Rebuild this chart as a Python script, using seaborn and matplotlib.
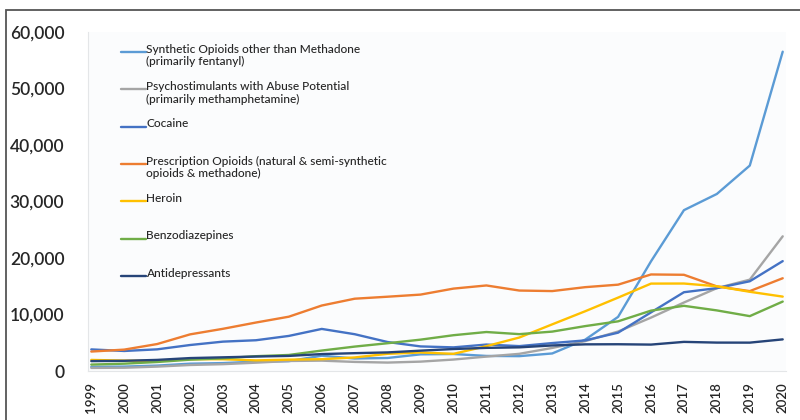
import numpy as np
import pandas as pd
import seaborn as sns
import matplotlib.pyplot as plt
from matplotlib.legend_handler import HandlerLine2D
from matplotlib.patches import Rectangle

years = list(range(1999, 2021))

synthetic = [730, 782, 957, 1295, 1400, 1664, 1742, 2707, 2213, 2306, 2946, 3007,
             2666, 2628, 3105, 5544, 9580, 19413, 28466, 31335, 36359, 56516]
psycho = [547, 578, 777, 1064, 1207, 1473, 1773, 1832, 1609, 1491, 1659, 2027,
          2549, 3039, 4083, 5288, 6986, 9449, 12122, 14666, 16167, 23837]
cocaine = [3822, 3544, 3833, 4599, 5199, 5443, 6208, 7448, 6512, 5129, 4350, 4183,
           4681, 4404, 4944, 5415, 6784, 10375, 13942, 14666, 15883, 19447]
prescription = [3442, 3785, 4770, 6483, 7469, 8577, 9612, 11589, 12796, 13149, 13523, 14583,
                15140, 14240, 14145, 14838, 15281, 17087, 17029, 14975, 14139, 16416]
heroin = [1960, 1842, 1779, 2089, 2080, 1878, 2009, 2088, 2399, 3041, 3278, 3036,
          4397, 5925, 8257, 10574, 12989, 15469, 15482, 14996, 14019, 13165]
benzo = [1135, 1298, 1594, 2004, 2248, 2622, 2838, 3619, 4320, 4916, 5549, 6335,
         6900, 6524, 6973, 7945, 8791, 10684, 11537, 10724, 9711, 12290]
antidep = [1749, 1802, 1965, 2287, 2421, 2560, 2670, 2996, 3155, 3290, 3600, 3889,
           4094, 4186, 4523, 4717, 4735, 4674, 5154, 5027, 5020, 5597]

labels = ['Synthetic Opioids other than Methadone\n(primarily fentanyl)',
          'Psychostimulants with Abuse Potential\n(primarily methamphetamine)',
          'Cocaine',
          'Prescription Opioids (natural & semi-synthetic\nopioids & methadone)',
          'Heroin',
          'Benzodiazepines',
          'Antidepressants']
series = [synthetic, psycho, cocaine, prescription, heroin, benzo, antidep]
colors = ['#5b9bd5', '#a5a5a5', '#4472c4', '#ed7d31', '#ffc000', '#70ad47', '#264478']

df = pd.DataFrame({
    'year': years * len(labels),
    'deaths': np.concatenate(series),
    'drug': np.repeat(labels, len(years)),
})

sns.set_style('white')
plt.rcParams['font.family'] = ['Lato', 'DejaVu Sans']

fig = plt.figure(figsize=(8, 4.2), dpi=100)
ax = fig.add_axes([88 / 800, 49 / 420, 698 / 800, 339 / 420])
ax.set_facecolor('#fbfcfd')

sns.lineplot(data=df, x='year', y='deaths', hue='drug', hue_order=labels,
             palette=colors, linewidth=1.7, ax=ax)

ax.set_xlim(1998.9, 2020.1)
ax.set_ylim(0, 60000)
ax.set_xticks(years)
ax.set_xticklabels([str(y) for y in years], rotation=90, fontsize=9.5,
                   fontweight='semibold')
ax.set_yticks(range(0, 60001, 10000))
ax.set_yticklabels([f'{v:,}' for v in range(0, 60001, 10000)], fontsize=12.5,
                   fontweight='semibold')
ax.tick_params(axis='y', pad=17, length=0)
ax.tick_params(axis='x', pad=8, length=0)
ax.set_xlabel('')
ax.set_ylabel('')
for side in ['top', 'right']:
    ax.spines[side].set_visible(False)
for side in ['left', 'bottom']:
    ax.spines[side].set_color('#e4e6e8')
    ax.spines[side].set_linewidth(0.8)


class RaisedLine(HandlerLine2D):
    # put the legend line level with the first line of the label
    def __init__(self, shift=0.0, **kw):
        super().__init__(**kw)
        self.shift = shift

    def create_artists(self, legend, orig_handle, xdescent, ydescent, width,
                       height, fontsize, trans):
        return super().create_artists(legend, orig_handle, xdescent,
                                      ydescent - 2 * self.shift * fontsize,
                                      width, height, fontsize, trans)


handles = ax.get_legend().legend_handles
padded = [l if '\n' in l else l + '\n ' for l in labels]
ax.legend(handles, padded, loc='upper left', bbox_to_anchor=(0.047, 0.966),
          frameon=False, borderaxespad=0, borderpad=0,
          prop={'size': 8.6, 'weight': 'medium'},
          handlelength=2.1, handletextpad=0.05, labelspacing=1.13,
          handler_map={h: RaisedLine(shift=0.32) for h in handles})

fig.patches.append(Rectangle((6 / 800, -0.2), 1.2, 410 / 420 + 0.2,
                             transform=fig.transFigure, fill=False,
                             edgecolor='#555555', linewidth=1.3))

fig.savefig('out.png', dpi=100)
